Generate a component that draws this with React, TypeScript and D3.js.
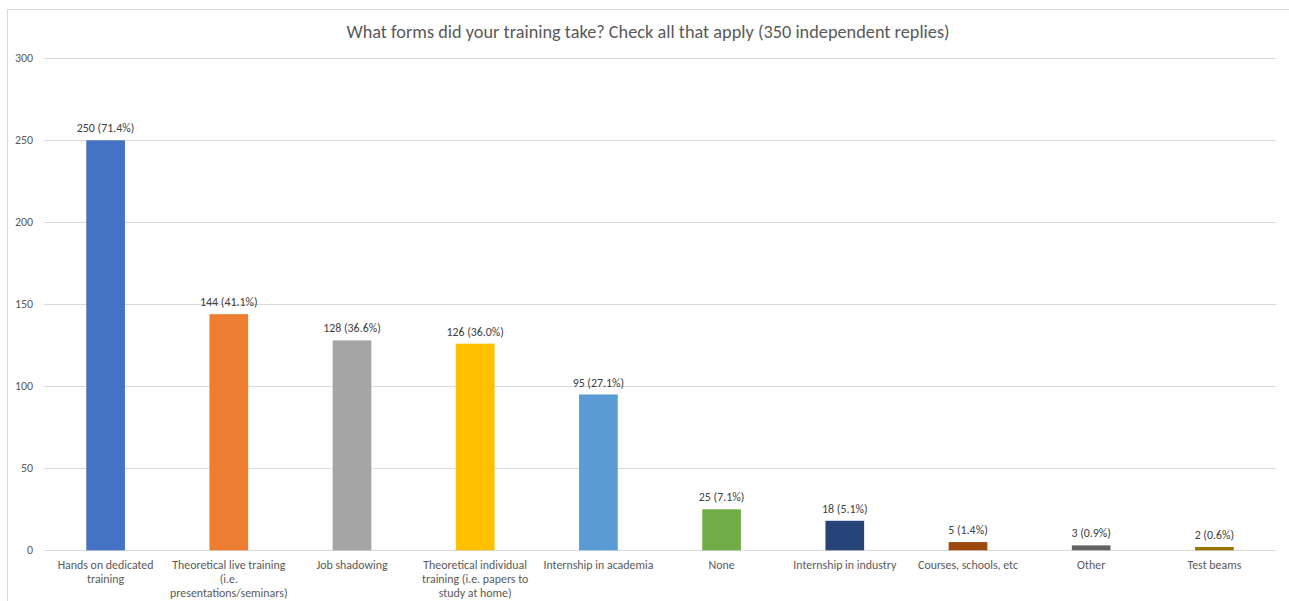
import React from "react";
import * as d3 from "d3";

const title = "What forms did your training take? Check all that apply (350 independent replies)";
const categories = [
  "Hands on dedicated training",
  "Theoretical live training (i.e. presentations/seminars)",
  "Job shadowing",
  "Theoretical individual training (i.e. papers to study at home)",
  "Internship in academia",
  "None",
  "Internship in industry",
  "Courses, schools, etc",
  "Other",
  "Test beams",
];
const categoryLines = [
  ["Hands on dedicated", "training"],
  ["Theoretical live training", "(i.e.", "presentations/seminars)"],
  ["Job shadowing"],
  ["Theoretical individual", "training (i.e. papers to", "study at home)"],
  ["Internship in academia"],
  ["None"],
  ["Internship in industry"],
  ["Courses, schools, etc"],
  ["Other"],
  ["Test beams"],
];
const counts = [250, 144, 128, 126, 95, 25, 18, 5, 3, 2];
const percents = ["71.4%", "41.1%", "36.6%", "36.0%", "27.1%", "7.1%", "5.1%", "1.4%", "0.9%", "0.6%"];
const colors = ["#4472C4", "#ED7D31", "#A5A5A5", "#FFC000", "#5B9BD5", "#70AD47", "#264478", "#9E480E", "#636363", "#997300"];
const yTicks = [0, 50, 100, 150, 200, 250, 300];

const W = 1289;
const H = 601;
const FONT = "Carlito, Calibri, 'Liberation Sans', Arial, sans-serif";

export default function App() {
  const x = d3
    .scaleBand<string>()
    .domain(categories)
    .range([44, 1276])
    .paddingInner(0.686)
    .paddingOuter(0.343);
  const y = d3.scaleLinear().domain([0, 300]).range([550.3, 58.3]);

  return (
    <svg
      width={W}
      height={H}
      style={{ position: "absolute", left: 0, top: 0, background: "#fff" }}
      fontFamily={FONT}
    >
      <rect x={0} y={0} width={W} height={H} fill="#fff" />
      <rect x={7.5} y={9.5} width={W + 10} height={H + 10} fill="none" stroke="#D9D9D9" strokeWidth={1} />
      <text x={648} y={38} textAnchor="middle" fontSize={18.3} fill="#595959">
        {title}
      </text>
      {yTicks.map((t) => (
        <g key={t}>
          <line x1={44} x2={1276} y1={Math.round(y(t)) + 0.5} y2={Math.round(y(t)) + 0.5} stroke="#D9D9D9" strokeWidth={1} />
          <text x={33} y={y(t) + 4} textAnchor="end" fontSize={11.9} fill="#595959">
            {t}
          </text>
        </g>
      ))}
      {categories.map((c, i) => {
        const bx = x(c)!;
        const cx = bx + x.bandwidth() / 2;
        return (
          <g key={c}>
            <rect x={bx} y={y(counts[i])} width={x.bandwidth()} height={y(0) - y(counts[i])} fill={colors[i]} />
            <text x={cx} y={y(counts[i]) - 8} textAnchor="middle" fontSize={11.9} fill="#404040">
              {`${counts[i]} (${percents[i]})`}
            </text>
            {categoryLines[i].map((ln, j) => (
              <text key={j} x={cx} y={569 + j * 14} textAnchor="middle" fontSize={11.9} fill="#595959">
                {ln}
              </text>
            ))}
          </g>
        );
      })}
    </svg>
  );
}
